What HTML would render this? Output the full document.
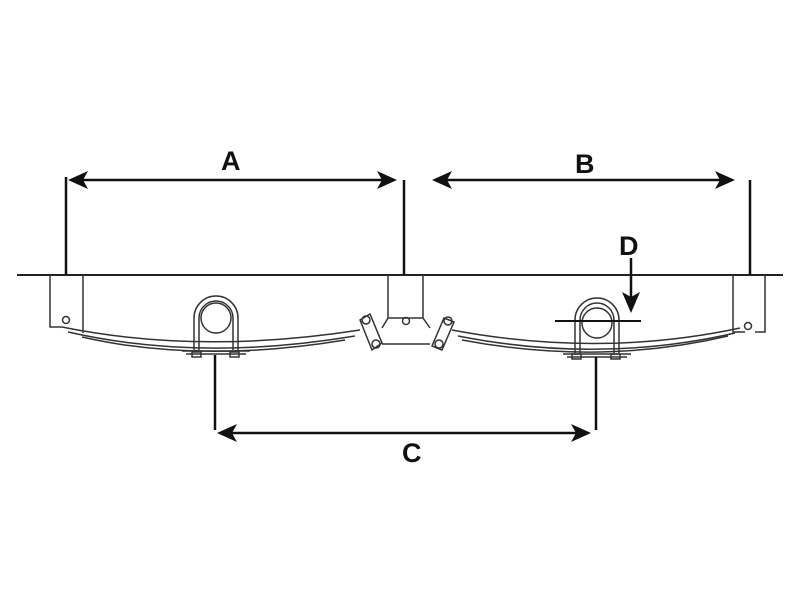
<!DOCTYPE html>
<html><head><meta charset="utf-8"><style>
html,body{margin:0;padding:0;background:#fff;}
svg{display:block;}
text{font-family:"Liberation Sans",sans-serif;font-weight:900;font-size:27px;fill:#111;}
</style></head><body>
<svg width="800" height="600" viewBox="0 0 800 600" xmlns="http://www.w3.org/2000/svg">
<g fill="none" stroke="#333" stroke-width="1.5">
  <line x1="17" y1="275" x2="783" y2="275" stroke="#222" stroke-width="2"/>
  <path d="M50 275 V327 H62 M83 275 V333"/>
  <circle cx="66" cy="320" r="3.5"/>
  <path d="M388 275 V318 L382 328 M423 275 V318 L430 328 M382 344 H430"/>
  <path d="M388 318 H423"/>
  <circle cx="406" cy="321" r="3.5"/>
  <path d="M733 275 V332 H745 M765 275 V332 H755"/>
  <circle cx="748" cy="326" r="3.5"/>
  <path d="M62 327 Q200 355 360 330"/>
  <path d="M68 332 Q200 362 355 336"/>
  <path d="M82 337 Q200 364 345 340"/>
  <path d="M452 330 Q600 358 740 328"/>
  <path d="M458 336 Q600 364 735 333"/>
  <path d="M462 340 Q600 366 728 336"/>
  <path d="M360 320 L370 314 L382 343 L372 350 Z" fill="#fff"/>
  <circle cx="366" cy="320" r="4"/><circle cx="376" cy="344" r="4"/>
  <path d="M444 318 L454 322 L442 350 L432 346 Z" fill="#fff"/>
  <circle cx="448" cy="321" r="4"/><circle cx="439" cy="344" r="4"/>
  <circle cx="216" cy="318" r="15"/>
  <path d="M194 350 V318 A22 22 0 0 1 238 318 V350"/>
  <path d="M199 350 V318 A17 17 0 0 1 233 318 V350"/>
  <path d="M182 351 H250 M186 354 H246"/>
  <rect x="192" y="352" width="9" height="5"/><rect x="230" y="352" width="9" height="5"/>
  <circle cx="597" cy="323" r="15"/>
  <path d="M575 353 V320 A22 22 0 0 1 619 320 V353"/>
  <path d="M580 353 V320 A17 17 0 0 1 614 320 V353"/>
  <path d="M563 354 H631 M567 357 H627"/>
  <rect x="572" y="354" width="9" height="5"/><rect x="611" y="354" width="9" height="5"/>
</g>
<g stroke="#111" stroke-width="2.5" fill="none">
  <line x1="66" y1="177" x2="66" y2="275"/>
  <line x1="404" y1="180" x2="404" y2="275"/>
  <line x1="80" y1="180" x2="384" y2="180"/>
  <line x1="750" y1="180" x2="750" y2="275"/>
  <line x1="446" y1="180" x2="722" y2="180"/>
  <line x1="215" y1="355" x2="215" y2="430"/>
  <line x1="596" y1="357" x2="596" y2="430"/>
  <line x1="230" y1="433" x2="580" y2="433"/>
  <line x1="631" y1="258" x2="631" y2="298"/>
  <line x1="555" y1="321" x2="641" y2="321" stroke-width="2"/>
</g>
<g fill="#111">
  <polygon points="68,180 88,171 83,180 88,189"/>
  <polygon points="397,180 377,171 382,180 377,189"/>
  <polygon points="432,180 452,171 447,180 452,189"/>
  <polygon points="735,180 715,171 720,180 715,189"/>
  <polygon points="217,433 237,424 232,433 237,442"/>
  <polygon points="591,433 571,424 576,433 571,442"/>
  <polygon points="631,313 622,292 631,297 640,292"/>
</g>
<text x="221" y="170">A</text>
<text x="575" y="173">B</text>
<text x="402" y="462">C</text>
<text x="619" y="255">D</text>
</svg>
</body></html>
